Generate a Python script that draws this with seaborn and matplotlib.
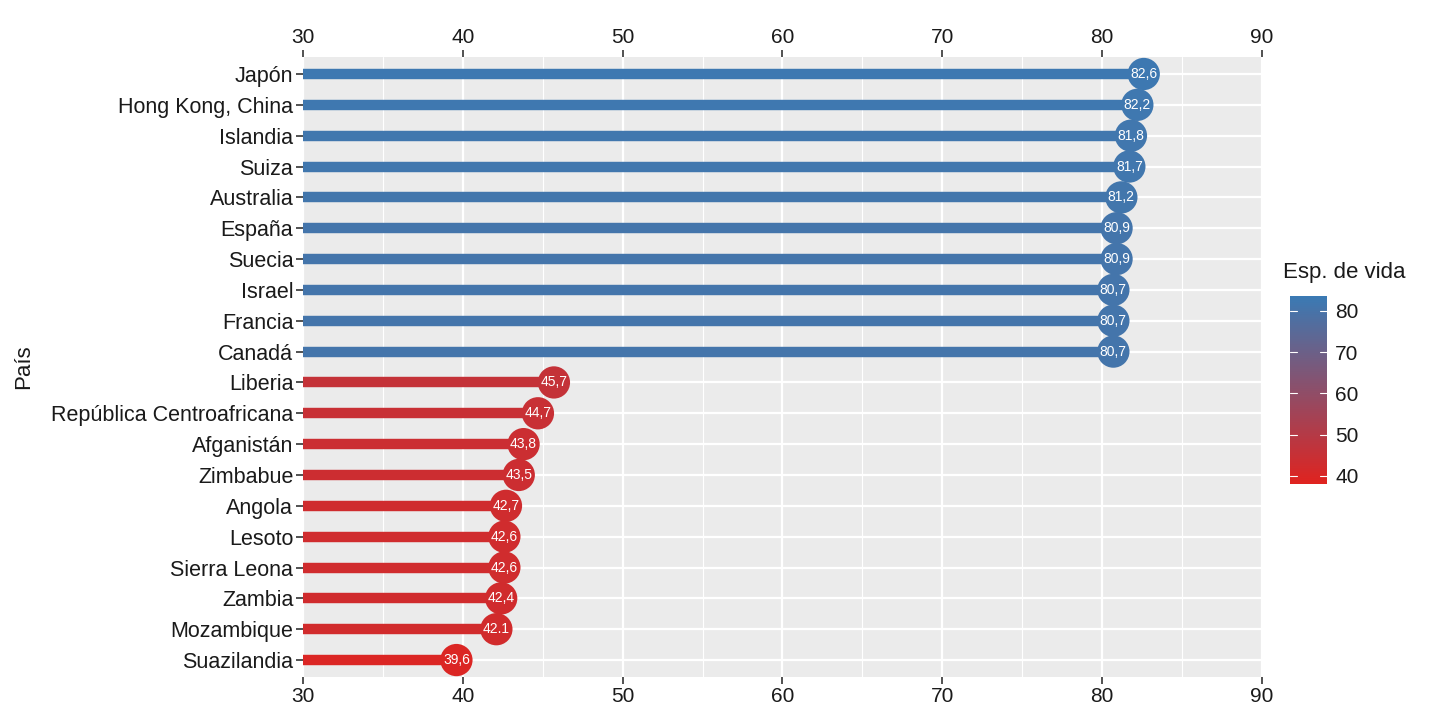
import numpy as np
import pandas as pd
import seaborn as sns
import matplotlib.pyplot as plt
from matplotlib.colors import LinearSegmentedColormap, Normalize
from matplotlib.cm import ScalarMappable

# Data: top to bottom as in the chart
paises = ['Japón', 'Hong Kong, China', 'Islandia', 'Suiza', 'Australia',
          'España', 'Suecia', 'Israel', 'Francia', 'Canadá',
          'Liberia', 'República Centroafricana', 'Afganistán', 'Zimbabue',
          'Angola', 'Lesoto', 'Sierra Leona', 'Zambia', 'Mozambique',
          'Suazilandia']
esp_vida = [82.6, 82.2, 81.8, 81.7, 81.2, 80.9, 80.9, 80.7, 80.7, 80.7,
            45.7, 44.7, 43.8, 43.5, 42.7, 42.6, 42.6, 42.4, 42.1, 39.6]
etiquetas = ['82,6', '82,2', '81,8', '81,7', '81,2', '80,9', '80,9', '80,7', '80,7', '80,7',
             '45,7', '44,7', '43,8', '43,5', '42,7', '42,6', '42,6', '42,4', '42.1', '39,6']
x_ticks = [30, 40, 50, 60, 70, 80, 90]
cbar_ticks = [40, 50, 60, 70, 80]

df = pd.DataFrame({'pais': paises, 'esp': esp_vida, 'lab': etiquetas})

sns.set_theme(style='darkgrid', rc={'axes.facecolor': '#EBEBEB', 'grid.color': 'white'})
plt.rcParams['font.family'] = ['Liberation Sans', 'DejaVu Sans']

cmap = LinearSegmentedColormap.from_list('rb', ['#E0231F', '#3A7AB4'])
norm = Normalize(vmin=38.0, vmax=83.6)

fig = plt.figure(figsize=(14.4, 7.2), dpi=100)
ax = fig.add_axes([0.2104, 0.0597, 0.6660, 0.8611])

# minor grid
for xm in [35, 45, 55, 65, 75, 85]:
    ax.axvline(xm, color='white', lw=0.8, zorder=0.5)

# sticks
ax.hlines(df['pais'], 30, df['esp'], colors=cmap(norm(df['esp'])), lw=7.5, zorder=2)

# heads
sns.scatterplot(data=df, x='esp', y='pais', hue='esp', palette=cmap, hue_norm=norm,
                s=540, edgecolor='none', legend=False, ax=ax, zorder=3)

for i, row in df.iterrows():
    ax.text(row['esp'], row['pais'], row['lab'], color='white', fontsize=10,
            ha='center', va='center', zorder=4)

ax.set_xlim(30, 90)
ax.set_ylim(len(paises) - 1 + 0.55, -0.55)
ax.set_xticks(x_ticks)
ax.grid(True, axis='both', color='white', lw=1.6)
ax.set_axisbelow(True)
ax.set_xlabel('')
ax.set_ylabel('País', fontsize=16, color='#1a1a1a', labelpad=12)
ax.tick_params(axis='x', top=True, labeltop=True, bottom=True, labelbottom=True,
               length=5, width=1.2, color='#333333', labelsize=15, labelcolor='#1a1a1a', pad=2)
ax.tick_params(axis='y', left=True, length=5, width=1.2, color='#333333',
               labelsize=15.5, labelcolor='#1a1a1a', pad=2)
for s in ax.spines.values():
    s.set_visible(False)

# colour bar legend
cax = fig.add_axes([0.8958, 0.3278, 0.0257, 0.2611])
cb = fig.colorbar(ScalarMappable(norm=norm, cmap=cmap), cax=cax, ticks=cbar_ticks)
cb.outline.set_visible(False)
cax.tick_params(length=0, labelsize=15, labelcolor='#1a1a1a', pad=6)
for t in cbar_ticks:
    cax.plot([0, 0.2], [t, t], color='white', lw=0.8, transform=cax.get_yaxis_transform())
    cax.plot([0.8, 1], [t, t], color='white', lw=0.8, transform=cax.get_yaxis_transform())
fig.text(0.8910, 0.622, 'Esp. de vida', fontsize=16, color='#1a1a1a', ha='left', va='center')

fig.savefig('out.png', dpi=100)
